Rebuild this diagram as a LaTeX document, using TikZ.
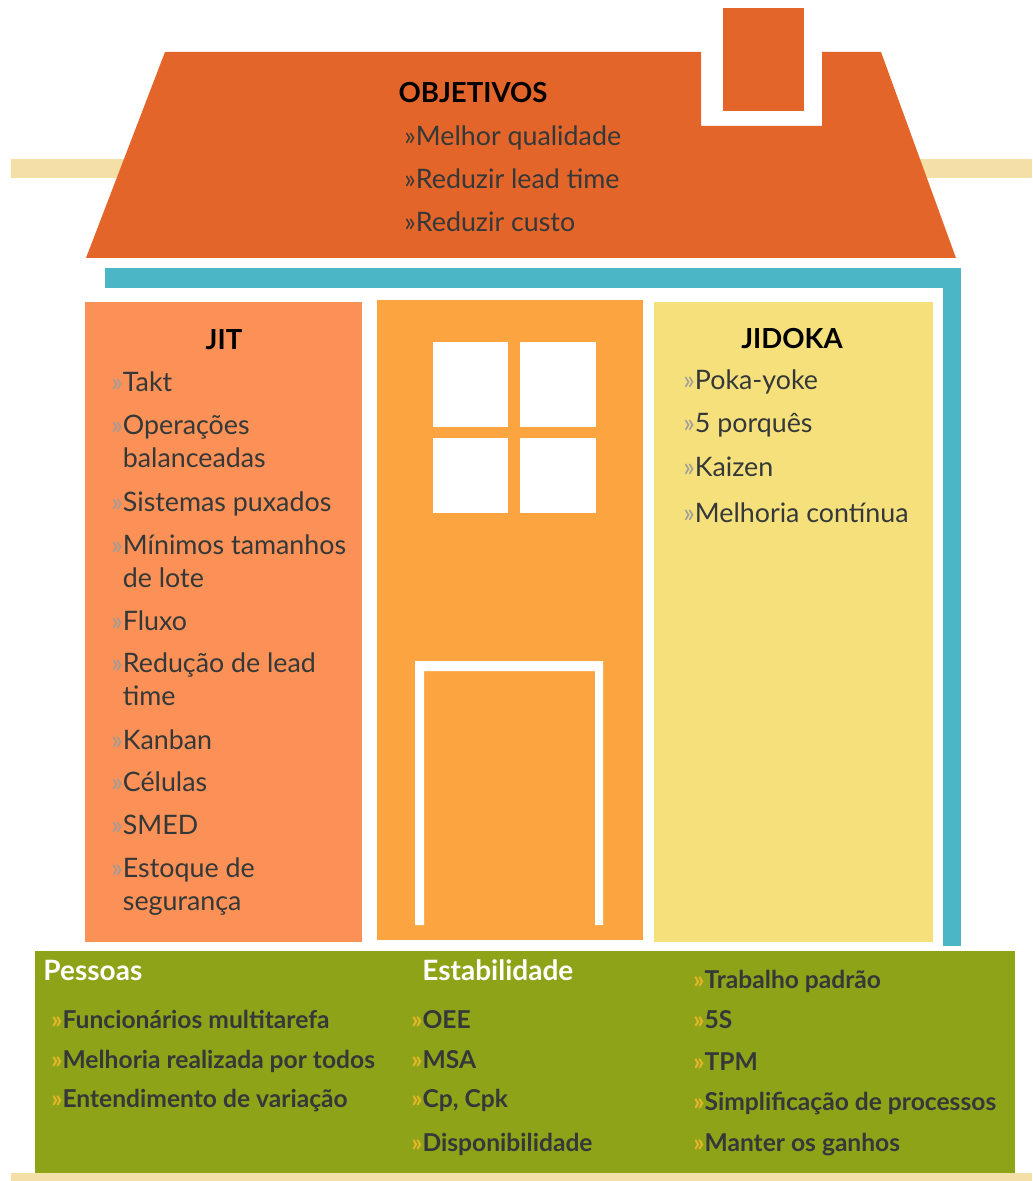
\documentclass[tikz,border=0pt]{standalone}
\usepackage{fontspec}
\setmainfont{Lato}

\definecolor{roof}{HTML}{E4652A}
\definecolor{teal}{HTML}{4BB6C6}
\definecolor{band}{HTML}{F4E0A6}
\definecolor{jit}{HTML}{FB9156}
\definecolor{door}{HTML}{FCA540}
\definecolor{jidoka}{HTML}{F5E07C}
\definecolor{base}{HTML}{8FA319}
\definecolor{ink}{HTML}{343838}
\definecolor{markgray}{HTML}{9C9C9C}
\definecolor{markgold}{HTML}{E6B628}

% list markers
\newcommand{\graymark}{{\color{markgray}»}}
\newcommand{\goldmark}{{\color{markgold}»}}
\newcommand{\nomark}{\hphantom{»}}

\tikzset{
  item/.style={anchor=base west, inner sep=0pt, text=ink, font=\fontsize{13.4}{15}\selectfont},
  head/.style={anchor=base, inner sep=0pt, text=black, font=\bfseries\fontsize{13.8}{16}\selectfont},
  baseitem/.style={item, font=\bfseries\fontsize{12.3}{14}\selectfont},
  basehead/.style={anchor=base west, inner sep=0pt, text=white, font=\bfseries\fontsize{14}{16}\selectfont},
}

\begin{document}
\begin{tikzpicture}[x=0.5pt, y=-0.5pt]
    \useasboundingbox (0,0) rectangle (1032,1181);

    % ground and horizon bands
    \fill[band] (11,159) rectangle (1032,178);
    \fill[band] (11,1173) rectangle (1032,1181);

    % roof with chimney
    \fill[roof] (165,52) -- (701,52) -- (701,126) -- (822,126) -- (822,52)
        -- (881,52) -- (956,258) -- (86,258) -- cycle;
    \fill[roof] (723,8) rectangle (804,111);

    % gutter and wall
    \fill[teal] (105,268) rectangle (961,288);
    \fill[teal] (943,268) rectangle (961,946);

    % pillars
    \fill[jit] (85,302) rectangle (362,942);
    \fill[door] (377,300) rectangle (643,940);
    \fill[jidoka] (654,302) rectangle (933,942);

    % window
    \fill[white] (433,342) rectangle (508,427);
    \fill[white] (520,342) rectangle (596,427);
    \fill[white] (433,438) rectangle (508,513);
    \fill[white] (520,438) rectangle (596,513);

    % door frame
    \fill[white] (415,925) -- (415,661) -- (603,661) -- (603,925) -- (595,925)
        -- (595,671) -- (424,671) -- (424,925) -- cycle;

    % foundation
    \fill[base] (35,951) rectangle (1015,1173);

    % Objetivos
    \node[head] (objetivos) at (473,103) {OBJETIVOS};
    \foreach \y/\t [count=\i] in {146/Melhor qualidade, 189/Reduzir lead time, 232/Reduzir custo}
        \node[item] (obj\i) at (404,\y) {»\t};

    % JIT pillar
    \node[head] (jit) at (224,350) {JIT};
    \foreach \y/\t [count=\i] in {392/\graymark Takt, 434/\graymark Operações, 467/\nomark balanceadas,
        511/\graymark Sistemas puxados, 554/\graymark Mínimos tamanhos, 587/\nomark de lote,
        630/\graymark Fluxo, 672/\graymark Redução de lead, 705/\nomark time,
        749/\graymark Kanban, 791/\graymark Células, 834/\graymark SMED,
        877/\graymark Estoque de, 910/\nomark segurança}
        \node[item] (jit\i) at (111,\y) {\t};

    % Jidoka pillar
    \node[head] (jidoka) at (792,349) {JIDOKA};
    \foreach \y/\t [count=\i] in {390/Poka-yoke, 432/5 porquês, 476/Kaizen, 522/Melhoria contínua}
        \node[item] (jid\i) at (683,\y) {\graymark\t};

    % foundation columns
    \node[basehead] (pessoas) at (43,980) {Pessoas};
    \node[basehead] (estab) at (422,980) {Estabilidade};
    \foreach \y/\t [count=\i] in {1028/Funcionários multitarefa, 1068/Melhoria realizada por todos,
        1107/Entendimento de variação}
        \node[baseitem] (pes\i) at (51,\y) {\goldmark\t};
    \foreach \y/\t [count=\i] in {1028/OEE, 1068/MSA, 1107/{Cp, Cpk}, 1151/Disponibilidade}
        \node[baseitem] (est\i) at (411,\y) {\goldmark\t};
    \foreach \y/\t [count=\i] in {988/Trabalho padrão, 1028/5S, 1070/TPM,
        1110/Simplificação de processos, 1151/Manter os ganhos}
        \node[baseitem] (pad\i) at (693,\y) {\goldmark\t};
\end{tikzpicture}
\end{document}
